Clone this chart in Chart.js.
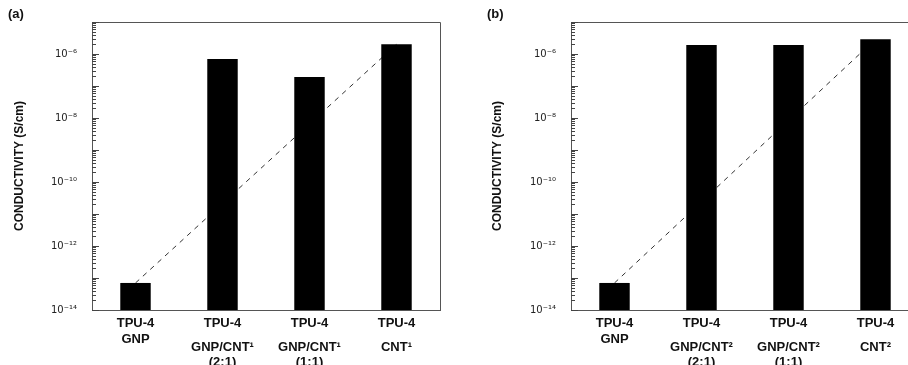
<!DOCTYPE html>
<html>
<head>
<meta charset="utf-8">
<script src="https://cdn.jsdelivr.net/npm/chart.js@4/dist/chart.umd.min.js"></script>
<style>
  html, body { margin: 0; padding: 0; background: #fff; overflow: hidden; width: 908px; height: 365px; }
  .panel { position: absolute; top: 0; height: 365px; }
  .tag { position: absolute; font: bold 13px "Liberation Sans", Arial, sans-serif; color: #111; }
</style>
</head>
<body>
<div class="panel" style="left:0;width:454px"><canvas id="chartA" width="454" height="365"></canvas></div>
<div class="panel" style="left:454px;width:470px"><canvas id="chartB" width="470" height="365"></canvas></div>
<div class="tag" style="left:8px;top:6px">(a)</div>
<div class="tag" style="left:487px;top:6px">(b)</div>
<script>
// categories (x labels, multi-line; blank lines keep the original spacing)
const labelsA = [['TPU-4', '', 'GNP'], ['TPU-4', '', '', 'GNP/CNT¹', '', '(2:1)'], ['TPU-4', '', '', 'GNP/CNT¹', '', '(1:1)'], ['TPU-4', '', '', 'CNT¹']];
const labelsB = [['TPU-4', '', 'GNP'], ['TPU-4', '', '', 'GNP/CNT²', '', '(2:1)'], ['TPU-4', '', '', 'GNP/CNT²', '', '(1:1)'], ['TPU-4', '', '', 'CNT²']];

// conductivity (S/cm)
const valuesA = [7e-14, 7e-7, 1.9e-7, 2e-6];
const valuesB = [7e-14, 1.9e-6, 1.9e-6, 2.9e-6];

// dashed trend line, first to last sample
const trendA = [7e-14, null, null, 2e-6];
const trendB = [7e-14, null, null, 2.9e-6];

// decades on the y axis
const decades = [-14, -13, -12, -11, -10, -9, -8, -7, -6, -5];
const supDigits = { '-': '⁻', '0': '⁰', '1': '¹', '2': '²', '3': '³', '4': '⁴', '5': '⁵', '6': '⁶', '7': '⁷', '8': '⁸', '9': '⁹' };

const FONT = '"Liberation Sans", Arial, sans-serif';

function sup(n) {
  return String(n).split('').map(c => supDigits[c]).join('');
}

// plot frame + inward log ticks (major and minor)
const framePlugin = {
  id: 'frame',
  afterDraw(chart) {
    const ctx = chart.ctx;
    const a = chart.chartArea;
    const y = chart.scales.y;
    ctx.save();
    ctx.strokeStyle = '#555';
    ctx.lineWidth = 1;
    ctx.beginPath();
    ctx.moveTo(Math.round(a.left) + 0.5, Math.round(a.top) + 0.5);
    ctx.lineTo(Math.round(a.right) + 0.5, Math.round(a.top) + 0.5);
    ctx.lineTo(Math.round(a.right) + 0.5, Math.round(a.bottom) + 0.5);
    ctx.stroke();
    ctx.strokeStyle = '#444';
    ctx.beginPath();
    decades.forEach(e => {
      for (let m = 1; m <= 9; m++) {
        const v = m * Math.pow(10, e);
        if (v > y.max * 1.0001) break;
        const py = Math.round(y.getPixelForValue(v)) + 0.5;
        const len = m === 1 ? 7 : 4;
        ctx.moveTo(Math.round(a.left), py);
        ctx.lineTo(Math.round(a.left) + len, py);
      }
    });
    ctx.stroke();
    ctx.restore();
  }
};

function makeChart(id, labels, values, trend, axisWidth, titlePad, rightPad) {
  new Chart(document.getElementById(id), {
    type: 'bar',
    data: {
      labels: labels,
      datasets: [{
        type: 'bar',
        data: values,
        backgroundColor: '#000',
        borderWidth: 0,
        barPercentage: 0.35,
        categoryPercentage: 1,
        order: 0
      }, {
        type: 'line',
        data: trend,
        spanGaps: true,
        borderColor: '#333',
        borderWidth: 1,
        borderDash: [5, 5],
        pointRadius: 0,
        fill: false,
        order: 1
      }]
    },
    options: {
      responsive: false,
      animation: false,
      layout: { padding: { top: 22, right: rightPad, left: 0, bottom: 0 } },
      plugins: {
        legend: { display: false },
        tooltip: { enabled: false }
      },
      scales: {
        x: {
          type: 'category',
          offset: true,
          afterFit: s => { s.height = 55; },
          grid: { display: false },
          border: { display: true, color: '#555', width: 1 },
          ticks: {
            autoSkip: false,
            maxRotation: 0,
            minRotation: 0,
            padding: 2,
            color: '#111',
            font: { family: FONT, size: 13, weight: 'bold', lineHeight: '7.7px' }
          }
        },
        y: {
          type: 'logarithmic',
          min: 1e-14,
          max: 1e-5,
          afterFit: s => { s.width = axisWidth; },
          afterBuildTicks: s => { s.ticks = decades.map(e => ({ value: Math.pow(10, e) })); },
          grid: { display: false },
          border: { display: true, color: '#555', width: 1 },
          title: {
            display: true,
            text: 'CONDUCTIVITY (S/cm)',
            color: '#111',
            font: { family: FONT, size: 12, weight: 'bold' },
            padding: { top: titlePad, bottom: 0 }
          },
          ticks: {
            autoSkip: false,
            padding: 7,
            color: '#222',
            font: { family: '"DejaVu Sans", sans-serif', size: 10 },
            callback: function(value) {
              const e = Math.round(Math.log10(value));
              return e % 2 === 0 && e <= -6 ? '10' + sup(e) : '';
            }
          }
        }
      }
    },
    plugins: [framePlugin]
  });
}

makeChart('chartA', labelsA, valuesA, trendA, 92, 12, 14);
makeChart('chartB', labelsB, valuesB, trendB, 117, 36, 5);
</script>
</body>
</html>
